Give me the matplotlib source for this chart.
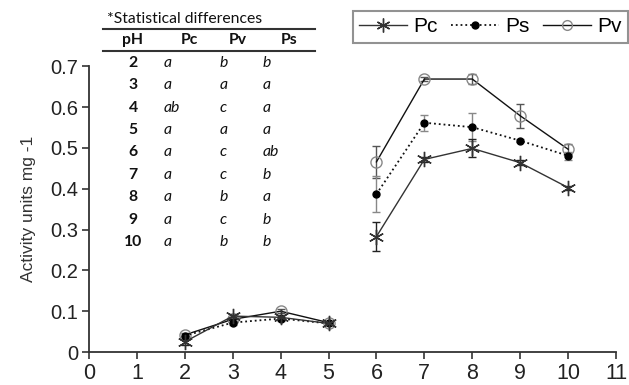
import matplotlib
matplotlib.use("Agg")
import matplotlib.pyplot as plt
import numpy as np
from matplotlib.lines import Line2D

ph = [2, 3, 4, 5, 6, 7, 8, 9, 10]
pc = [0.025, 0.088, 0.085, 0.07, 0.283, 0.472, 0.499, 0.464, 0.403]
pc_err = [0.008, 0.006, 0.005, 0.004, 0.035, 0.006, 0.022, 0.006, 0.005]
ps = [0.040, 0.072, 0.082, 0.070, 0.387, 0.562, 0.551, 0.518, 0.481]
ps_err = [0.004, 0.006, 0.005, 0.004, 0.045, 0.02, 0.034, 0.004, 0.01]
pv = [0.042, 0.080, 0.100, 0.072, 0.466, 0.669, 0.669, 0.579, 0.497]
pv_err = [0.004, 0.005, 0.005, 0.004, 0.04, 0.006, 0.012, 0.03, 0.012]

tbl_title = "*Statistical differences"
tbl_header = ["pH", "Pc", "Pv", "Ps"]
tbl_ph = ["2", "3", "4", "5", "6", "7", "8", "9", "10"]
tbl_pc = ["a", "a", "ab", "a", "a", "a", "a", "a", "a"]
tbl_pv = ["b", "a", "c", "a", "c", "c", "b", "c", "b"]
tbl_ps = ["b", "a", "a", "a", "ab", "b", "a", "b", "b"]

xticks = list(range(0, 12))
yticks = [0, 0.1, 0.2, 0.3, 0.4, 0.5, 0.6, 0.7]
ytick_labels = ["0", "0.1", "0.2", "0.3", "0.4", "0.5", "0.6", "0.7"]

W, H = 629, 385
plt.rcParams['font.family'] = ['Liberation Sans', 'DejaVu Sans']
fig = plt.figure(figsize=(W / 100, H / 100), dpi=100)

ax = fig.add_axes([89 / W, 1 - 352 / H, (616 - 89) / W, (352 - 66.4) / H])
ax.set_xlim(0, 11)
ax.set_ylim(0, 0.7)
ax.spines['top'].set_visible(False)
ax.spines['right'].set_visible(False)
for s in ['left', 'bottom']:
    ax.spines[s].set_color('#333333')
    ax.spines[s].set_linewidth(1.3)
ax.set_xticks(xticks)
ax.set_yticks(yticks)
ax.set_yticklabels(ytick_labels)
ax.tick_params(direction='out', length=5, width=1.2, color='#333333',
               labelcolor='#222222')
ax.tick_params(axis='x', labelsize=15.5, pad=3)
ax.tick_params(axis='y', labelsize=14.5, pad=3)
ax.set_ylabel("Activity units mg -1", fontsize=12.5, color='#333333', labelpad=10)

pc_marker = (6, 2, 0)
segments = [slice(0, 4), slice(4, 9)]
x = np.array(ph, dtype=float)
for sl in segments:
    ax.errorbar(x[sl], np.array(pv)[sl], yerr=np.array(pv_err)[sl], fmt='none',
                ecolor='#555555', elinewidth=1, capsize=3, capthick=1, zorder=2)
    ax.errorbar(x[sl], np.array(ps)[sl], yerr=np.array(ps_err)[sl], fmt='none',
                ecolor='#888888', elinewidth=1, capsize=3, capthick=1, zorder=2)
    ax.errorbar(x[sl], np.array(pc)[sl], yerr=np.array(pc_err)[sl], fmt='none',
                ecolor='#222222', elinewidth=1, capsize=3, capthick=1, zorder=2)
    ax.plot(x[sl], np.array(pv)[sl], '-', color='#111111', lw=1.0,
            marker='o', ms=8, mfc='none', mec='#888888', mew=1.0, zorder=3)
    ax.plot(x[sl], np.array(ps)[sl], ':', color='#111111', lw=1.3,
            marker='o', ms=5, mfc='black', mec='black', zorder=4)
    ax.plot(x[sl], np.array(pc)[sl], '-', color='#333333', lw=1.0,
            marker=pc_marker, ms=11, mec='#333333', mew=1.0, zorder=5)

handles = [
    Line2D([], [], color='#333333', lw=1.0, marker=pc_marker, ms=10, mec='#333333', mew=1.0),
    Line2D([], [], color='#111111', lw=1.3, ls=':', marker='o', ms=5, mfc='black', mec='black'),
    Line2D([], [], color='#111111', lw=1.0, marker='o', ms=7, mfc='none', mec='#888888'),
]
leg = fig.legend(handles, ["Pc", "Ps", "Pv"], loc='upper right', ncol=3,
                 bbox_to_anchor=(628 / W, 1 - 11 / H), borderaxespad=0,
                 fontsize=15, frameon=True, fancybox=False, handlelength=2.3,
                 handletextpad=0.3, columnspacing=0.65, borderpad=0.3)
leg.get_frame().set_edgecolor('#777777')
leg.get_frame().set_linewidth(1.5)

# statistical table
tfont = ['Lato', 'DejaVu Sans']
def fx(px):
    return px / W
def fy(py):
    return 1 - py / H

fs = 11.3
fig.text(fx(107), fy(19), tbl_title, fontsize=fs, family=tfont, va='center', ha='left', color='#111111')
fig.add_artist(Line2D([fx(103), fx(315)], [fy(29), fy(29)], color='#333333', lw=1.5))
fig.add_artist(Line2D([fx(103), fx(315)], [fy(51), fy(51)], color='#333333', lw=1.5))
hdr_x = [132.5, 189.5, 238, 289.5]
for hx, ht in zip(hdr_x, tbl_header):
    fig.text(fx(hx), fy(40), ht, fontsize=fs, family=tfont, weight='bold',
             va='center', ha='center', color='#111111')
for i in range(len(tbl_ph)):
    yy = fy(62.7 + 22.4 * i)
    fig.text(fx(133), yy, tbl_ph[i], fontsize=fs, family=tfont, weight='bold',
             va='center', ha='center', color='#111111')
    fig.text(fx(164), yy, tbl_pc[i], fontsize=fs, family=tfont, style='italic',
             va='center', ha='left', color='#111111')
    fig.text(fx(220), yy, tbl_pv[i], fontsize=fs, family=tfont, style='italic',
             va='center', ha='left', color='#111111')
    fig.text(fx(263), yy, tbl_ps[i], fontsize=fs, family=tfont, style='italic',
             va='center', ha='left', color='#111111')

fig.savefig("out.png", dpi=100)
